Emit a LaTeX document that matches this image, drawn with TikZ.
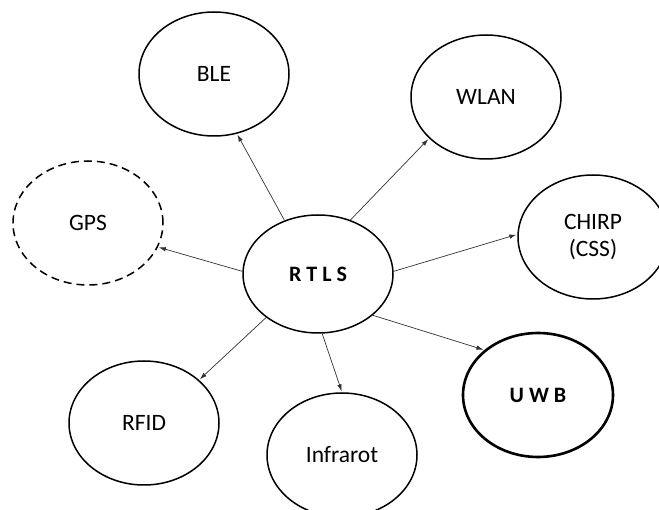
\documentclass[tikz,border=0pt]{standalone}
\usepackage{fontspec}
\setmainfont{Carlito}
\usetikzlibrary{shapes.geometric,arrows.meta}

\tikzset{
  tech/.style={ellipse, draw=black, line width=1.5pt, inner sep=0pt,
    minimum width=150pt, minimum height=124pt, align=center,
    font=\fontsize{23.5}{27}\selectfont},
  hub/.style={tech, minimum height=118pt, font=\fontsize{22}{27}\selectfont\bfseries},
  strong/.style={tech, line width=2.6pt, font=\fontsize{22}{27}\selectfont\bfseries},
  optional/.style={tech, dash pattern=on 8pt off 5pt},
  link/.style={draw=black!80, line width=0.7pt,
    -{Latex[length=7pt,width=4.5pt]}, shorten >=1pt}
}

\begin{document}
\begin{tikzpicture}[x=1pt,y=-1pt]
  \useasboundingbox (0,0) rectangle (659,510);
  \clip (0,0) rectangle (659,510);
  \fill[white] (0,0) rectangle (659,510);

  % central system
  \node[hub] (rtls) at (318,274) {R T L S};

  % positioning technologies around it
  \node[tech] (ble) at (214,74) {BLE};
  \node[tech] (wlan) at (486,97) {WLAN};
  \node[optional] (gps) at (88,223) {GPS};
  \node[tech] (chirp) at (593,237) {CHIRP\\(CSS)};
  \node[strong] (uwb) at (538,395) {U W B};
  \node[tech] (rfid) at (144,423) {RFID};
  \node[tech] (ir) at (342,455) {Infrarot};

  % connectors
  \draw[link] (rtls.122) -- (ble.-69);
  \draw[link] (rtls.59) -- (wlan.216);
  \draw[link] (rtls.178) -- (gps.-19);
  \draw[link] (rtls.2) -- (chirp.178);
  \draw[link] (rtls.-37) -- (uwb.140);
  \draw[link] (rtls.220) -- (rfid.38);
  \draw[link] (rtls.-86) -- (ir.90);
\end{tikzpicture}
\end{document}
